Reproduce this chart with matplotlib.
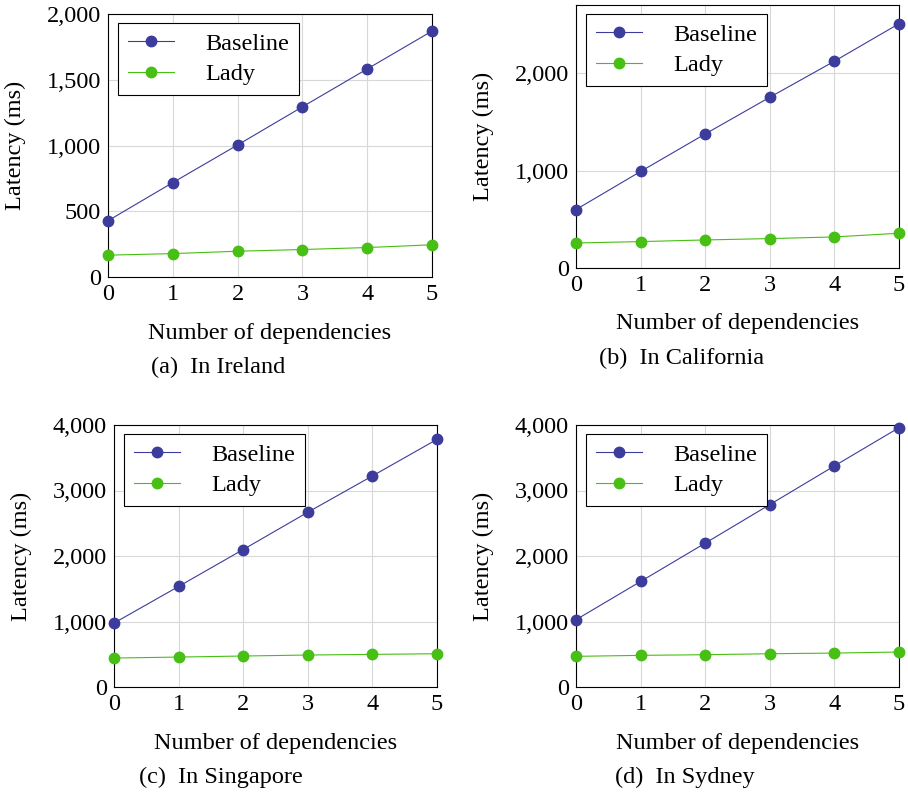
import matplotlib.pyplot as plt
from matplotlib.ticker import FuncFormatter

plt.rcParams['font.family'] = ['Liberation Serif', 'DejaVu Serif']

deps = [0, 1, 2, 3, 4, 5]

ireland_base = [428, 718, 1004, 1294, 1582, 1870]
ireland_lady = [166, 178, 196, 209, 224, 245]
california_base = [600, 991, 1376, 1753, 2123, 2508]
california_lady = [257, 271, 288, 302, 319, 357]
singapore_base = [976, 1535, 2099, 2668, 3222, 3781]
singapore_lady = [442, 457, 473, 488, 498, 508]
sydney_base = [1027, 1611, 2196, 2785, 3375, 3959]
sydney_lady = [468, 483, 493, 508, 518, 534]

captions = ["(a)\u2002In Ireland", "(b)\u2002In California",
            "(c)\u2002In Singapore", "(d)\u2002In Sydney"]

W, H = 908, 793
fig = plt.figure(figsize=(W / 100, H / 100), dpi=100)

# (left, right, top, bottom) in pixels, caption centre x, ylim top, yticks
panels = [
    ((108, 432, 14, 277), 218, 2000, [0, 500, 1000, 1500, 2000], ireland_base, ireland_lady),
    ((576, 899, 5, 268), 682, 2700, [0, 1000, 2000], california_base, california_lady),
    ((114, 437, 425, 687), 221, 4000, [0, 1000, 2000, 3000, 4000], singapore_base, singapore_lady),
    ((576, 899, 425, 687), 685, 4000, [0, 1000, 2000, 3000, 4000], sydney_base, sydney_lady),
]

blue = '#3c3c9c'
green = '#48bf14'
fs = 17.5
fmt = FuncFormatter(lambda v, p: f"{int(v):,}")

for (box, cx, ymax, yt, base, lady), cap in zip(panels, captions):
    l, r, t, b = box
    w, h = r - l, b - t
    ax = fig.add_axes([l / W, 1 - b / H, w / W, h / H])
    ax.plot(deps, base, '-o', color=blue, lw=0.8, ms=7.5, label='Baseline', clip_on=False, zorder=3)
    ax.plot(deps, lady, '-o', color=green, lw=0.8, ms=7.5, label='Lady', clip_on=False, zorder=3)
    ax.set_xlim(0, 5)
    ax.set_ylim(0, ymax)
    ax.set_xticks(deps)
    ax.set_yticks(yt)
    ax.yaxis.set_major_formatter(fmt)
    ax.grid(True, color='#d8d8d8', lw=0.8)
    ax.set_axisbelow(True)
    ax.tick_params(direction='in', length=0, labelsize=fs, pad=5)
    for s in ax.spines.values():
        s.set_linewidth(0.8)
    ax.set_xlabel('Number of dependencies', fontsize=fs, va='center')
    ax.xaxis.set_label_coords(0.5, -56 / h)
    ax.set_ylabel('Latency (ms)', fontsize=fs, va='center')
    ax.yaxis.set_label_coords(-93 / w, 0.5)
    leg = ax.legend(loc='upper left', bbox_to_anchor=(10 / w, 1 - 9 / h), borderaxespad=0,
                    fontsize=fs, fancybox=False, edgecolor='black', framealpha=1, numpoints=1,
                    handlelength=1.9, handletextpad=1.3, borderpad=0.4, labelspacing=0.35)
    leg.get_frame().set_linewidth(0.8)
    fig.text(cx / W, 1 - (b + 90) / H, cap, ha='center', va='center', fontsize=fs)

fig.savefig('out.png', dpi=100)
